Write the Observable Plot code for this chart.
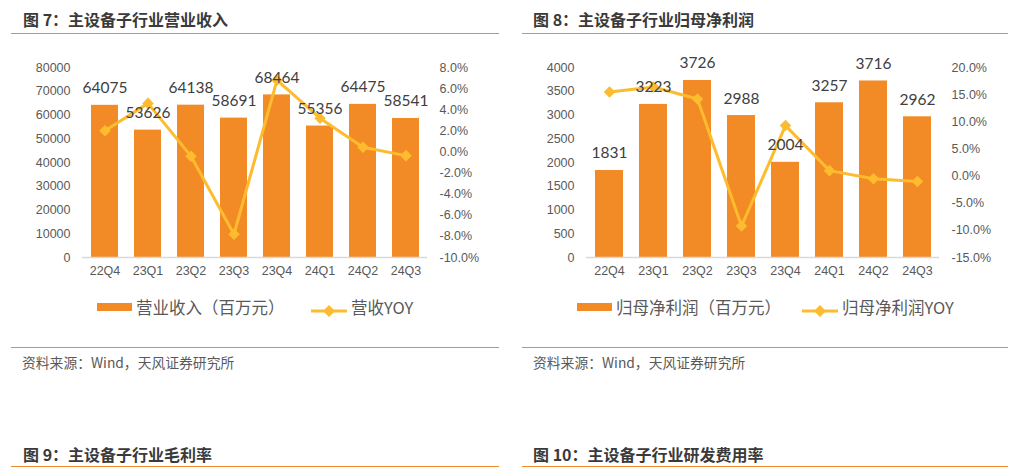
<!DOCTYPE html>
<html><head><meta charset="utf-8">
<script src="https://cdn.jsdelivr.net/npm/d3@7"></script>
<script src="https://cdn.jsdelivr.net/npm/@observablehq/plot@0.6"></script>
<style>
body{margin:0;background:#fff;}
#page{position:relative;width:1017px;height:475px;overflow:hidden;font-family:"Noto Sans CJK SC",sans-serif;background:#fff;}
.title{position:absolute;font-weight:bold;font-size:16px;color:#3a3a3a;white-space:nowrap;line-height:1;}
.rule{position:absolute;height:0;border-top:1.5px solid #F08A2A;}
.src{position:absolute;font-size:13.8px;color:#595959;white-space:nowrap;line-height:1;}
.chart{position:absolute;}
.lg{position:absolute;font-size:16.5px;color:#595959;white-space:nowrap;line-height:1;}
.sw{position:absolute;}
</style></head>
<body><div id="page"></div>
<script>
const quarters = ["22Q4","23Q1","23Q2","23Q3","23Q4","24Q1","24Q2","24Q3"];
const revenue = [64075,53626,64138,58691,68464,55356,64475,58541];
const revenueYoy = [2.0,4.6,-0.4,-7.8,6.8,3.2,0.45,-0.35];
const profit = [1831,3223,3726,2988,2004,3257,3716,2962];
const profitYoy = [15.5,16.4,14.2,-9.2,9.3,1.0,-0.5,-1.0];
const revLeftTicks = [0,10000,20000,30000,40000,50000,60000,70000,80000];
const revRightTicks = [-10,-8,-6,-4,-2,0,2,4,6,8];
const profLeftTicks = [0,500,1000,1500,2000,2500,3000,3500,4000];
const profRightTicks = [-15,-10,-5,0,5,10,15,20];

const BAR = "#F28A26", LINE = "#FDBB2E";
const page = document.getElementById("page");

function add(cls, style, text){
  const d = document.createElement("div");
  d.className = cls;
  Object.assign(d.style, style);
  if (text != null) d.textContent = text;
  page.appendChild(d);
  return d;
}

function makeChart({values, yoy, leftTicks, rightTicks, left, width, marginLeft, marginRight, pi}){
  const yMax = leftTicks[leftTicks.length-1];
  const pMin = rightTicks[0], pMax = rightTicks[rightTicks.length-1];
  const map = p => (p - pMin) / (pMax - pMin) * yMax;
  const rows = quarters.map((q,i) => ({q, v: values[i], p: yoy[i]}));
  const svg = Plot.plot({
    width, height: 240,
    marginTop: 17, marginBottom: 33, marginLeft, marginRight,
    style: {fontFamily: '"Liberation Sans", Arial, sans-serif', fontSize: "12.5px", color: "#595959", background: "transparent", overflow: "visible"},
    x: {type: "band", domain: quarters, paddingInner: pi, paddingOuter: pi/2, axis: null},
    y: {domain: [0, yMax], axis: null},
    marks: [
      Plot.barY(rows, {x: "q", y: "v", fill: BAR}),
      Plot.ruleY([0], {stroke: "#d9d9d9", strokeWidth: 1.5}),
      Plot.axisX({tickSize: 0, tickPadding: 9, label: null}),
      Plot.axisY(leftTicks, {anchor: "left", tickSize: 0, tickPadding: 12, tickFormat: d => String(d), label: null}),
      Plot.axisY(rightTicks, {anchor: "right", y: d => map(d), text: d => d.toFixed(1) + "%", tickSize: 0, tickPadding: 12, textAnchor: "start", label: null}),
      Plot.line(rows, {x: "q", y: d => map(d.p), stroke: LINE, strokeWidth: 3}),
      Plot.dot(rows, {x: "q", y: d => map(d.p), symbol: "diamond2", r: 5.2, fill: LINE, stroke: "none"}),
      Plot.text(rows, {x: "q", y: "v", text: d => String(d.v), dy: -17, fontSize: 15.5, fill: "#404040", fontFamily: "Lato, 'Open Sans', sans-serif"})
    ]
  });
  const wrap = add("chart", {left: left + "px", top: "50px"});
  wrap.appendChild(svg);
}

function legend(x1, t1, x2, t2){
  add("sw", {left: x1 + "px", top: "303px", width: "35px", height: "8px", background: BAR});
  add("lg", {left: (x1 + 39) + "px", top: "299px"}, t1);
  const s = add("sw", {left: x2 + "px", top: "300px", width: "36px", height: "16px"});
  s.innerHTML = `<svg width="36" height="16"><line x1="0" y1="8" x2="36" y2="8" stroke="${LINE}" stroke-width="3"/><path d="M18 2 L24 8 L18 14 L12 8 Z" fill="${LINE}"/></svg>`;
  add("lg", {left: (x2 + 40) + "px", top: "299px"}, t2);
}

// headers
add("title", {left: "23px", top: "11px"}, "图 7：主设备子行业营业收入");
add("rule", {left: "11px", top: "33px", width: "488px"});
add("title", {left: "533px", top: "11px"}, "图 8：主设备子行业归母净利润");
add("rule", {left: "522px", top: "33px", width: "486px"});

makeChart({values: revenue, yoy: revenueYoy, leftTicks: revLeftTicks, rightTicks: revRightTicks, left: 0, width: 508, marginLeft: 82, marginRight: 81, pi: 0.38});
makeChart({values: profit, yoy: profitYoy, leftTicks: profLeftTicks, rightTicks: profRightTicks, left: 508, width: 509, marginLeft: 78, marginRight: 78, pi: 0.37});

legend(97, "营业收入（百万元）", 311, "营收YOY");
legend(577, "归母净利润（百万元）", 802, "归母净利润YOY");

add("rule", {left: "11px", top: "347px", width: "488px"});
add("src", {left: "22px", top: "356px"}, "资料来源：Wind，天风证券研究所");
add("rule", {left: "522px", top: "347px", width: "486px"});
add("src", {left: "533px", top: "356px"}, "资料来源：Wind，天风证券研究所");

add("title", {left: "23px", top: "446px"}, "图 9：主设备子行业毛利率");
add("rule", {left: "11px", top: "466px", width: "488px"});
add("title", {left: "533px", top: "446px"}, "图 10：主设备子行业研发费用率");
add("rule", {left: "522px", top: "466px", width: "486px"});
</script></body></html>
